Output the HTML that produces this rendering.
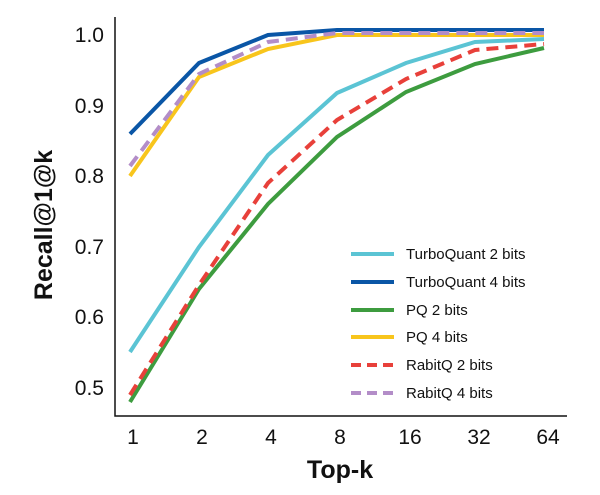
<!DOCTYPE html>
<html><head><style>body{margin:0;background:#fff}svg{display:block}</style></head><body>
<svg width="600" height="495" xmlns="http://www.w3.org/2000/svg" font-family="Liberation Sans, sans-serif">
<rect width="600" height="495" fill="#fff"/>
<polyline points="115,17 115,416 567,416" fill="none" stroke="#111" stroke-width="1.5"/>
<g font-size="21" fill="#111" text-anchor="end">
<text x="104" y="42">1.0</text><text x="104" y="113">0.9</text><text x="104" y="183">0.8</text>
<text x="104" y="254">0.7</text><text x="104" y="324">0.6</text><text x="104" y="395">0.5</text>
</g>
<g font-size="21" fill="#111" text-anchor="middle">
<text x="133" y="444">1</text><text x="202" y="444">2</text><text x="271" y="444">4</text><text x="340" y="444">8</text>
<text x="410" y="444">16</text><text x="479" y="444">32</text><text x="548" y="444">64</text>
</g>
<text x="340" y="478" font-size="25" font-weight="bold" text-anchor="middle" fill="#111">Top-k</text>
<text transform="translate(52,225) rotate(-90)" font-size="25" font-weight="bold" text-anchor="middle" fill="#111">Recall@1@k</text>
<g fill="none" stroke-width="4">
<polyline stroke="#5bc4d4" points="130,352 199,247 268,155 337,93 406,63 475,42 544,39"/>
<polyline stroke="#0a56a6" points="130,134 199,63 268,35 337,30 406,30 475,30 544,30"/>
<polyline stroke="#3d9c3f" points="130,402 199,289 268,204 337,137 406,92 475,64 544,48"/>
<polyline stroke="#f8c51c" points="130,176 199,77 268,49 337,35 406,35 475,35 544,35"/>
<polyline stroke="#e8403a" stroke-dasharray="12,7" points="130,395 199,285 268,183 337,120 406,79 475,50 544,44"/>
<polyline stroke="#b38dc8" stroke-dasharray="12,7" points="130,166 199,74 268,42 337,33 406,33 475,33 544,33"/>
</g>
<g stroke-width="4">
<line x1="351" y1="254" x2="394" y2="254" stroke="#5bc4d4"/>
<line x1="351" y1="282" x2="394" y2="282" stroke="#0a56a6"/>
<line x1="351" y1="310" x2="394" y2="310" stroke="#3d9c3f"/>
<line x1="351" y1="337" x2="394" y2="337" stroke="#f8c51c"/>
<line x1="351" y1="365" x2="394" y2="365" stroke="#e8403a" stroke-dasharray="10,6"/>
<line x1="351" y1="393" x2="394" y2="393" stroke="#b38dc8" stroke-dasharray="10,6"/>
</g>
<g font-size="15" fill="#111">
<text x="406" y="259">TurboQuant 2 bits</text><text x="406" y="287">TurboQuant 4 bits</text>
<text x="406" y="315">PQ 2 bits</text><text x="406" y="342">PQ 4 bits</text>
<text x="406" y="370">RabitQ 2 bits</text><text x="406" y="398">RabitQ 4 bits</text>
</g>
</svg>
</body></html>
